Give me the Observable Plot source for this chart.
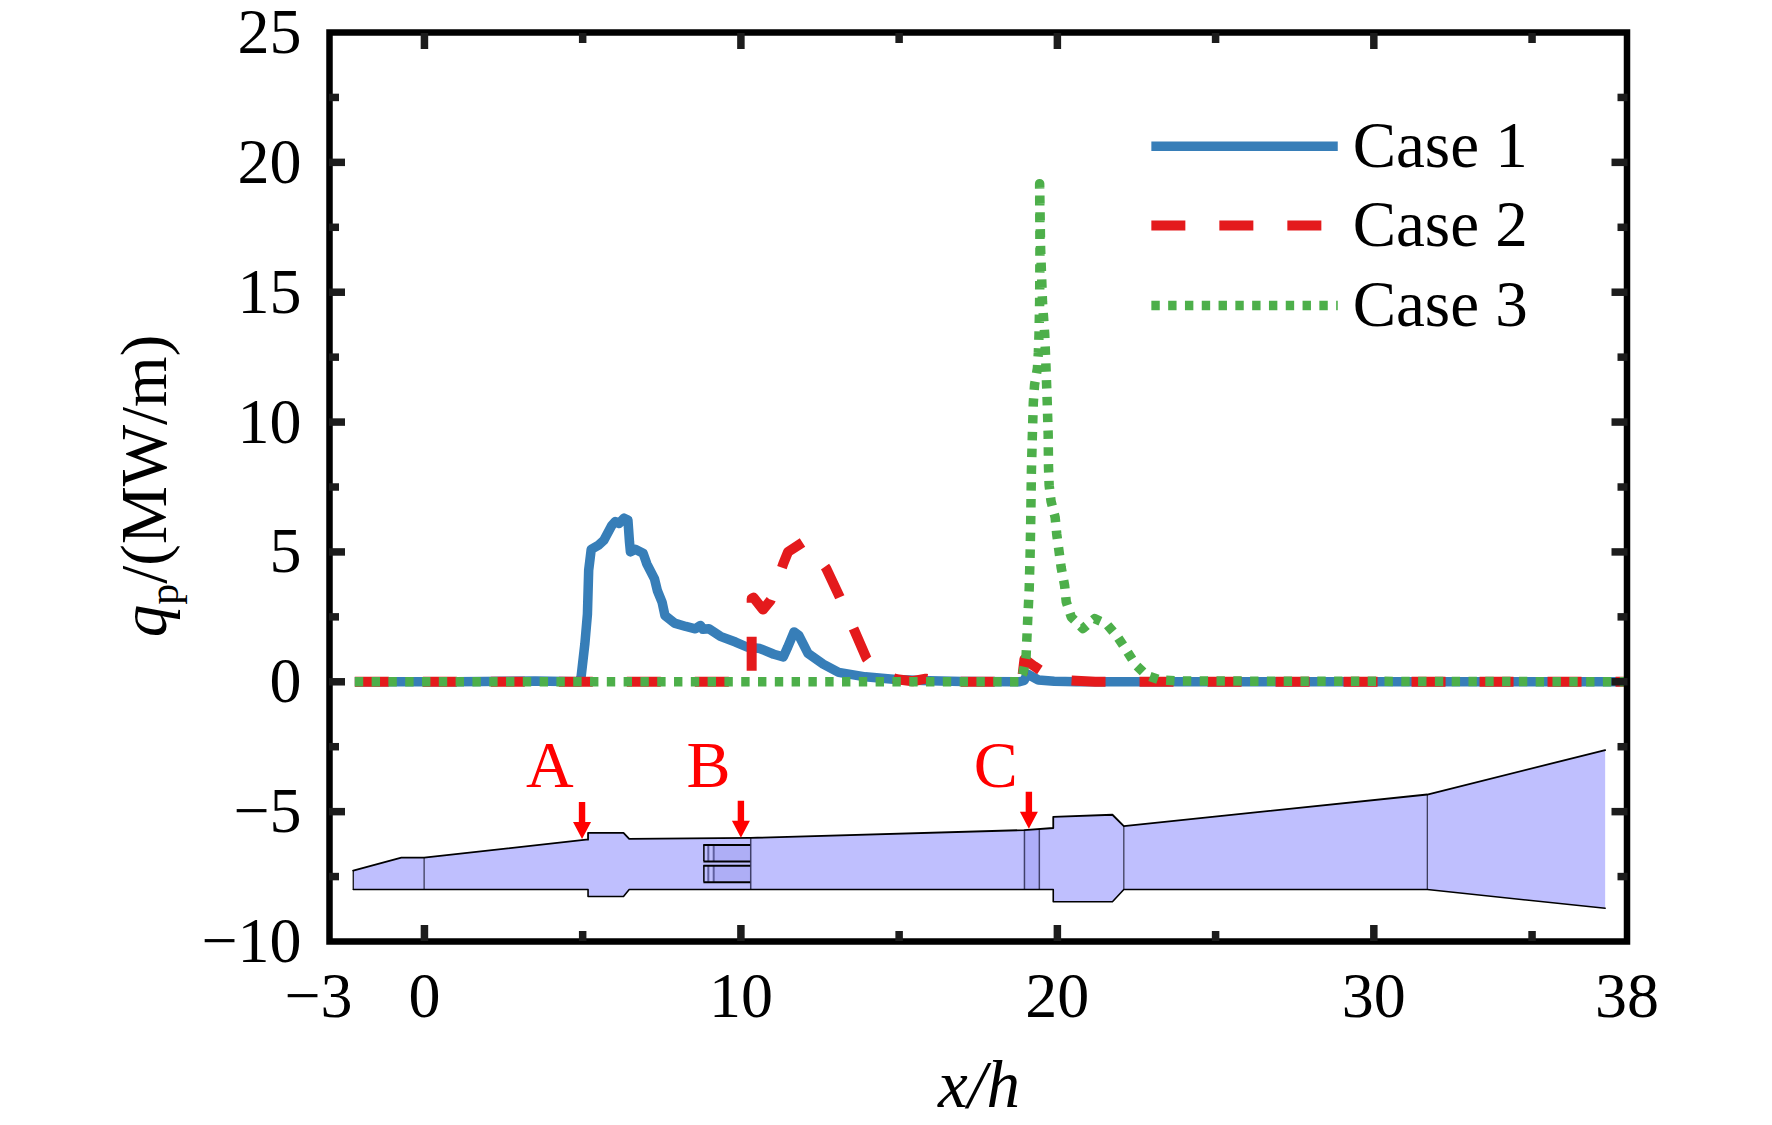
<!DOCTYPE html>
<html><head><meta charset="utf-8">
<script src="https://cdn.jsdelivr.net/npm/d3@7"></script>
<script src="https://cdn.jsdelivr.net/npm/@observablehq/plot@0.6"></script>
<style>html,body{margin:0;padding:0;background:#fff}svg{display:block}</style>
</head><body><div id="chart"></div>
<script>
const serif = "Liberation Serif";
const case1X = [-2.2,1,3.5,4.89,4.95,5.07,5.15,5.19,5.27,5.49,5.67,5.91,6.03,6.15,6.31,6.43,6.48,6.51,6.66,6.91,7.03,7.27,7.36,7.51,7.6,7.9,8.26,8.56,8.72,8.8,8.99,9.35,9.83,10.19,10.6,11.04,11.34,11.48,11.68,11.83,12.12,12.6,13.09,13.93,14.9,15.96,17,18.8,18.95,19.05,19.4,19.9,20.6,22,26,32,38];
const case1Y = [0,0,0.03,0,0.19,1.47,2.6,4.3,5.1,5.25,5.45,6.0,6.17,6.1,6.3,6.23,5.37,5.0,5.1,4.95,4.53,3.96,3.51,3.06,2.55,2.26,2.13,2.04,2.17,2.02,2.04,1.75,1.53,1.34,1.28,1.06,0.96,1.34,1.92,1.79,1.09,0.68,0.36,0.19,0.09,0.04,0.01,0,0.05,0.3,0.07,0.02,0,0,0,0,0];
const case2X = [-2.2,5,10.34,10.34,10.4,10.7,10.94,11.34,11.49,11.97,12.33,12.7,13.12,13.58,13.97,14.33,14.93,15.42,15.84,16.3,18.85,18.9,18.96,19.27,19.7,20.16,21.2,24,38];
const case2Y = [0,0,0,3.2,3.24,2.78,3.14,4.55,5.0,5.38,5.0,4.36,3.27,1.99,0.9,0.32,0.1,0.02,0.12,0,0,0.25,0.87,0.6,0.25,0.07,0,0,0];
const case3X = [-2.2,18.8,18.91,19.01,19.06,19.11,19.14,19.16,19.18,19.21,19.24,19.28,19.37,19.4,19.42,19.44,19.45,19.44,19.47,19.53,19.6,19.64,19.68,19.71,19.72,19.74,19.8,19.93,19.98,20.05,20.12,20.23,20.28,20.44,20.81,20.95,21.18,21.55,21.9,22.18,22.47,22.82,23.24,23.87,38];
const case3Y = [0,0,0.32,0.94,2.32,3.57,4.95,6.33,8.13,9.51,10.75,11.44,12.07,12.69,13.38,14.62,16.7,19.18,16.7,14.62,13.38,12.14,10.75,9.51,8.27,7.57,6.95,6.33,5.68,5.05,4.4,3.7,3.08,2.49,2.05,2.2,2.43,2.23,1.73,1.22,0.66,0.25,0.07,0.03,0];

const seriesNames = ["Case 1","Case 2","Case 3"];
const seriesColors = ["#377eb8","#e41a1c","#4daf4a"];
const legendY = [20.62,17.57,14.49];
const legendXRange = [22.97,28.86];
const legendTextX = 29.33;

const ductTopX = [-2.25,-0.73,-0.01,5.11,5.17,5.17,6.29,6.47,10.31,18.96,19.87,19.87,21.74,22.1,31.69,37.31];
const ductTopY = [-7.27,-6.77,-6.77,-6.08,-6.08,-5.82,-5.82,-6.05,-6.01,-5.71,-5.63,-5.2,-5.12,-5.56,-4.34,-2.63];
const ductBotX = [-2.25,5.17,5.17,6.29,6.47,19.87,19.87,21.74,22.1,31.69,37.31];
const ductBotY = [-8.0,-8.0,-8.27,-8.27,-8.0,-8.0,-8.47,-8.47,-8.0,-8.0,-8.72];
const ductDividersX = [-0.01,22.1,31.69];
const ductDividersTop = [-6.77,-5.56,-4.34];
const ductDark = [10.31,18.96,19.43];
const ductDarkTop = [-6.01,-5.71,-5.68];
const ductBottom = -8.0;
const strutX = [8.83,10.31];
const strutInnerX = [8.97,9.14];
const strutTop = [-6.28,-7.08];
const strutBot = [-6.92,-7.72];

const markNames = ["A","B","C"];
const markLabelX = [3.96,8.98,18.05];
const markLabelY = [-4.07,-4.07,-4.07];
const arrowX = [4.98,10.0,19.1];
const arrowTipY = [-6.05,-6.01,-5.66];

const yTickLabels = [25,20,15,10,5,0,-5,-10];
const yMinor = [22.5,17.5,12.5,7.5,2.5,-2.5,-7.5];
const xMajor = [0,10,20,30];
const xMinor = [5,15,25,35];
const xLabels = [0,10,20,30,38];

const duct = 
  ductTopX.map((x,i)=>({x,y:ductTopY[i]}))
  .concat(ductBotX.map((x,i)=>({x,y:ductBotY[i]})).reverse());
const fmt = d => String(d).replace("-","\u2212");
const ink = "#1c1c1c";
const downArrow = {draw(c,l){c.moveTo(0,0);c.lineTo(-9,-17);c.lineTo(-3.2,-17);c.lineTo(-3.2,-l);c.lineTo(3.2,-l);c.lineTo(3.2,-17);c.lineTo(9,-17);c.closePath();}};
const tickOpts = {stroke:ink,strokeWidth:7.5,strokeLinecap:"butt",text:null,label:null};
const ticksX = (ticks,size)=>[
  Plot.axisX({...tickOpts,anchor:"bottom",ticks,tickSize:size,dy:-size}),
  Plot.axisX({...tickOpts,anchor:"top",ticks,tickSize:size,dy:size})];
const ticksY = (ticks,size)=>[
  Plot.axisY({...tickOpts,anchor:"left",ticks,tickSize:size,dx:size}),
  Plot.axisY({...tickOpts,anchor:"right",ticks,tickSize:size,dx:-size})];

function textLabel(build){
  return () => {
    const s = d3.create("svg:g");
    build(s);
    return s.node();
  };
}

const plot = Plot.plot({
  width:1772,height:1125,
  marginLeft:329,marginRight:145.5,marginTop:32,marginBottom:184,
  style:{fontFamily:serif,fontSize:"64px",background:"#fff",color:"#000"},
  x:{domain:[-3,38],axis:null},
  y:{domain:[-10,25],axis:null},
  marks:[
    // duct silhouette
    Plot.line(duct,{x:"x",y:"y",fill:"#bfbffe",stroke:"none"}),
    Plot.rect(strutTop,{x1:strutInnerX[1],x2:strutX[1],y1:strutTop,y2:strutBot,fill:"#aeaef6"}),
    Plot.rect([0],{x1:ductDark[1],x2:ductDark[2],y1:ductBottom,y2:ductDarkTop[1],fill:"#aeaef9"}),
    Plot.ruleX(ductDividersX,{x:ductDividersX,y1:ductBottom,y2:ductDividersTop,stroke:"#33334d",strokeWidth:1.2}),
    Plot.ruleX(ductDark,{x:ductDark,y1:ductBottom,y2:ductDarkTop,stroke:"#40406a",strokeWidth:1.5}),
    Plot.ruleX(strutInnerX,{x:strutInnerX,y1:strutBot[0],y2:strutTop[0],stroke:"#6060a0",strokeWidth:2}),
    Plot.ruleX(strutInnerX,{x:strutInnerX,y1:strutBot[1],y2:strutTop[1],stroke:"#6060a0",strokeWidth:2}),
    Plot.ruleY(strutTop,{y:strutTop,x1:strutX[0],x2:strutX[1],stroke:"#000",strokeWidth:2}),
    Plot.ruleY(strutBot,{y:strutBot,x1:strutX[0],x2:strutX[1],stroke:"#000",strokeWidth:2}),
    Plot.ruleX(strutTop,{x:strutX[0],y1:strutTop,y2:strutBot,stroke:"#000",strokeWidth:1.5}),
    Plot.line(ductTopX,{x:ductTopX,y:ductTopY,stroke:"#000",strokeWidth:1.8}),
    Plot.line(ductBotX,{x:ductBotX,y:ductBotY,stroke:"#000",strokeWidth:1.6}),
    Plot.ruleX([ductBotX[0]],{x:ductBotX[0],y1:ductBotY[0],y2:ductTopY[0],stroke:"#000",strokeWidth:1.2}),
    // data lines
    Plot.line(case1X,{x:case1X,y:case1Y,stroke:seriesColors[0],strokeWidth:9.5,strokeLinecap:"butt"}),
    Plot.line(case2X,{x:case2X,y:case2Y,stroke:seriesColors[1],strokeWidth:10,strokeLinecap:"butt",strokeDasharray:"34,34"}),
    Plot.line(case3X,{x:case3X,y:case3Y,stroke:seriesColors[2],strokeWidth:9.5,strokeLinecap:"butt",strokeDasharray:"8.4,8.4"}),
    // legend
    Plot.line(legendXRange,{x:legendXRange,y:[legendY[0],legendY[0]],stroke:seriesColors[0],strokeWidth:9.5,strokeLinecap:"butt"}),
    Plot.line(legendXRange,{x:legendXRange,y:[legendY[1],legendY[1]],stroke:seriesColors[1],strokeWidth:10,strokeLinecap:"butt",strokeDasharray:"34,34"}),
    Plot.line(legendXRange,{x:legendXRange,y:[legendY[2],legendY[2]],stroke:seriesColors[2],strokeWidth:9.5,strokeLinecap:"butt",strokeDasharray:"8.4,8.4"}),
    Plot.text(seriesNames,{x:legendTextX,y:legendY,text:seriesNames,textAnchor:"start",lineAnchor:"middle",fill:"#000",fontSize:65}),
    // arrows and labels
    Plot.vector(arrowX,{x:arrowX,y:arrowTipY,length:37,anchor:"start",shape:downArrow,fill:"#ff0000",stroke:"none"}),
    Plot.text(markNames,{x:markLabelX,y:markLabelY,text:markNames,fill:"#ff0000",lineAnchor:"bottom",fontSize:66}),
    // frame + ticks
    Plot.frame({stroke:"#000",strokeWidth:6.5}),
    ...ticksX(xMajor,16),...ticksX(xMinor,10),
    ...ticksY(yTickLabels.slice(1,-1),16),...ticksY(yMinor,10),
    // tick labels
    Plot.axisY({anchor:"left",ticks:yTickLabels,tickSize:0,tickPadding:28,tickFormat:fmt,label:null,fill:"#000"}),
    Plot.axisX({anchor:"bottom",ticks:xLabels,tickSize:0,tickPadding:30,tickFormat:fmt,label:null,fill:"#000"}),
    Plot.text([-3],{x:[-3],frameAnchor:"bottom",text:d=>fmt(d),dx:-11,lineAnchor:"top",fill:"#000",dy:30}),
    // axis titles
    textLabel(s=>{
      const t=s.append("text").attr("transform","translate(166,486) rotate(-90)").attr("text-anchor","middle").attr("font-size",65);
      t.append("tspan").attr("font-style","italic").text("q");
      t.append("tspan").attr("font-size",42).attr("dy",12).text("p");
      t.append("tspan").attr("dy",-12).text("/(MW/m)");
      s.append("text").attr("transform","translate(979,1107)").attr("text-anchor","middle").attr("font-size",67).attr("font-style","italic").text("x/h");
    })
  ]
});
document.getElementById("chart").append(plot);
</script></body></html>
